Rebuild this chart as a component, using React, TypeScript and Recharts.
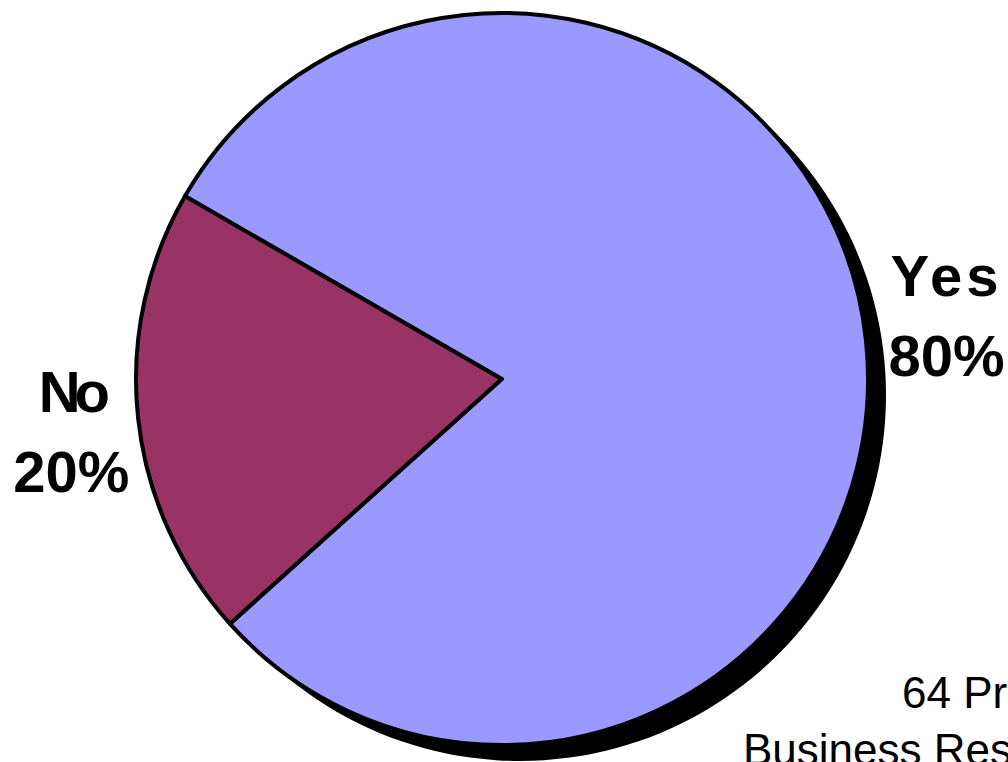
import React from "react";
import { PieChart, Pie, Cell } from "recharts";

// survey answers
const answers = ["No", "Yes"];
const shares = [20, 80];
const answerColors = ["#993366", "#9999FF"];
const noteLines = ["64 Projects", "Business Results"];

const pieData = answers.map((name, i) => ({ name, value: shares[i] }));
const shadowData = [{ name: "shadow", value: shares.reduce((a, b) => a + b, 0) }];

const FONT = "'Liberation Sans', Arial, Helvetica, sans-serif";
const RADIAN = Math.PI / 180;

const renderLabel = (props: any) => {
  const { cx, cy, midAngle, outerRadius, name, percent } = props;
  const r = outerRadius + 74;
  const cos = Math.cos(-midAngle * RADIAN);
  const x = cx + r * cos + 7;
  // nudge the label block a bit like the spreadsheet did
  const y = cy + r * Math.sin(-midAngle * RADIAN) + (cos > 0 ? -17 : 7);
  return (
    <text
      x={x}
      y={y}
      textAnchor="middle"
      fontFamily={FONT}
      fontWeight="bold"
      fontSize={58}
      fill="#000"
    >
      <tspan x={x} dy={-20} letterSpacing={name.length < 3 ? -6 : 4}>
        {name}
      </tspan>
      <tspan x={x} dy={80}>{`${Math.round(percent * 100)}%`}</tspan>
    </text>
  );
};

export default function App() {
  return (
    <div
      style={{
        position: "absolute",
        left: 0,
        top: 0,
        width: 1008,
        height: 762,
        overflow: "hidden",
        background: "#fff",
      }}
    >
      <PieChart width={1008} height={762} margin={{ top: 0, right: 0, bottom: 0, left: 0 }}>
        <Pie
          data={shadowData}
          dataKey="value"
          cx={520}
          cy={395}
          outerRadius={366}
          startAngle={0}
          endAngle={360}
          fill="#000"
          stroke="none"
          isAnimationActive={false}
        />
        <Pie
          data={pieData}
          dataKey="value"
          nameKey="name"
          cx={502}
          cy={379}
          outerRadius={366}
          startAngle={150}
          endAngle={510}
          stroke="#000"
          strokeWidth={4}
          strokeLinejoin="round"
          label={renderLabel}
          labelLine={false}
          isAnimationActive={false}
        >
          {pieData.map((entry, i) => (
            <Cell key={entry.name} fill={answerColors[i]} />
          ))}
        </Pie>
      </PieChart>
      <div
        style={{
          position: "absolute",
          left: 902,
          top: 668,
          fontFamily: FONT,
          fontSize: 44,
          whiteSpace: "nowrap",
          lineHeight: "50px",
          color: "#000",
        }}
      >
        {noteLines[0]}
      </div>
      <div
        style={{
          position: "absolute",
          left: 743,
          top: 725,
          fontFamily: FONT,
          fontSize: 44,
          whiteSpace: "nowrap",
          lineHeight: "50px",
          color: "#000",
        }}
      >
        {noteLines[1]}
      </div>
    </div>
  );
}
